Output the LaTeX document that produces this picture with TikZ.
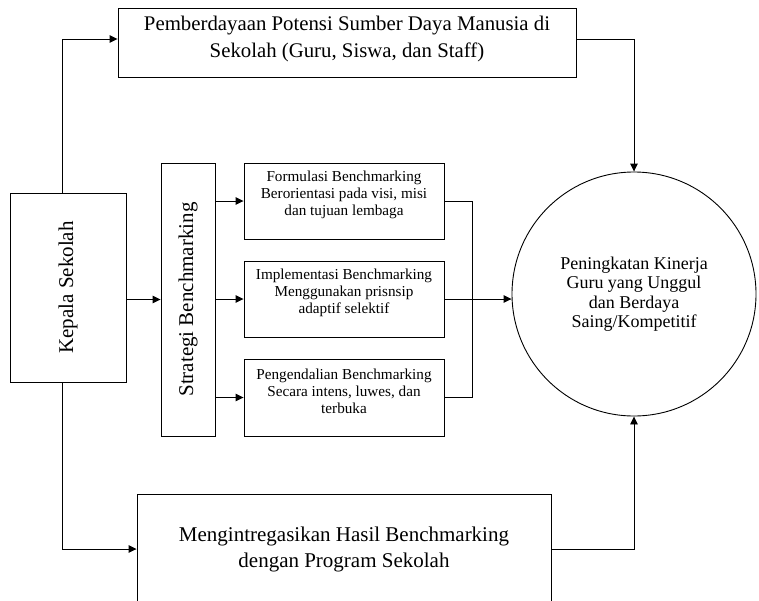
\documentclass[tikz,border=0pt]{standalone}
\usepackage{fontspec}
\setmainfont{Liberation Serif}
\usetikzlibrary{arrows.meta,calc}
\begin{document}
\begin{tikzpicture}[x=1pt,y=-1pt,
  box/.style={draw,line width=0.9pt,rectangle,inner sep=0pt,align=center},
  txt/.style={inner sep=0pt,align=center},
  small/.style={txt,font=\fontsize{15.2}{17}\selectfont},
  arr/.style={line width=0.9pt,-{Triangle[length=8pt,width=7.5pt]}},
  ln/.style={line width=0.9pt}]
\useasboundingbox (0,0) rectangle (759,600);
\node[box,minimum width=458pt,minimum height=69pt] (top) at (347,42.5) {};
\node[txt,font=\fontsize{20.8}{27}\selectfont] (ttop) at (347,39)
  {Pemberdayaan Potensi Sumber Daya Manusia di\\Sekolah (Guru, Siswa, dan Staff)};
\node[box,minimum width=116pt,minimum height=189pt] (kep) at (68,287.5) {};
\node[rotate=90,font=\fontsize{21}{24}\selectfont] (tkep) at (kep.center) {Kepala Sekolah};
\node[box,minimum width=54pt,minimum height=273pt] (str) at (188,299.5) {};
\node[rotate=90,font=\fontsize{21}{24}\selectfont] (tstr) at (str.center) {Strategi Benchmarking};
\node[box,minimum width=200pt,minimum height=76pt] (b1) at (344,201) {};
\node[small] (t1) at (344,194.5) {Formulasi Benchmarking\\Berorientasi pada visi, misi\\dan tujuan lembaga};
\node[box,minimum width=200pt,minimum height=76pt] (b2) at (344,299) {};
\node[small] (t2) at (344,292.5) {Implementasi Benchmarking\\Menggunakan prisnsip\\adaptif selektif};
\node[box,minimum width=200pt,minimum height=77pt] (b3) at (344,397.5) {};
\node[small] (t3) at (344,391) {Pengendalian Benchmarking\\Secara intens, luwes, dan\\terbuka};
\node[draw,line width=0.9pt,circle,minimum size=244pt,inner sep=0pt,align=center,font=\fontsize{18}{19.5}\selectfont] (circ) at (634,294)
  {Peningkatan Kinerja\\Guru yang Unggul\\dan Berdaya\\Saing/Kompetitif};
\node[box,minimum width=414pt,minimum height=116pt] (bot) at (344,552) {};
\node[txt,font=\fontsize{21}{26}\selectfont] (tbot) at (344,549.5)
  {Mengintregasikan Hasil Benchmarking\\dengan Program Sekolah};
\coordinate (jt) at (472,201);
\coordinate (jb) at (472,397.5);
\draw[arr] ([xshift=-6pt]kep.north) |- ([yshift=3.5pt]top.west);
\draw[arr] ([yshift=3.5pt]top.east) -| (circ.north);
\draw[arr] (kep.east |- str.west) -- (str.west);
\draw[arr] (str.east |- b1.west) -- (b1.west);
\draw[arr] (str.east |- b2.west) -- (b2.west);
\draw[arr] (str.east |- b3.west) -- (b3.west);
\draw[ln] (b1.east) -- (jt) -- (jb) -- (b3.east);
\draw[arr] (b2.east) -- (b2.east -| circ.west);
\draw[arr] ([xshift=-6pt]kep.south) |- ([yshift=3pt]bot.west);
\draw[arr] ([yshift=3pt]bot.east) -| (circ.south);
\end{tikzpicture}
\end{document}
